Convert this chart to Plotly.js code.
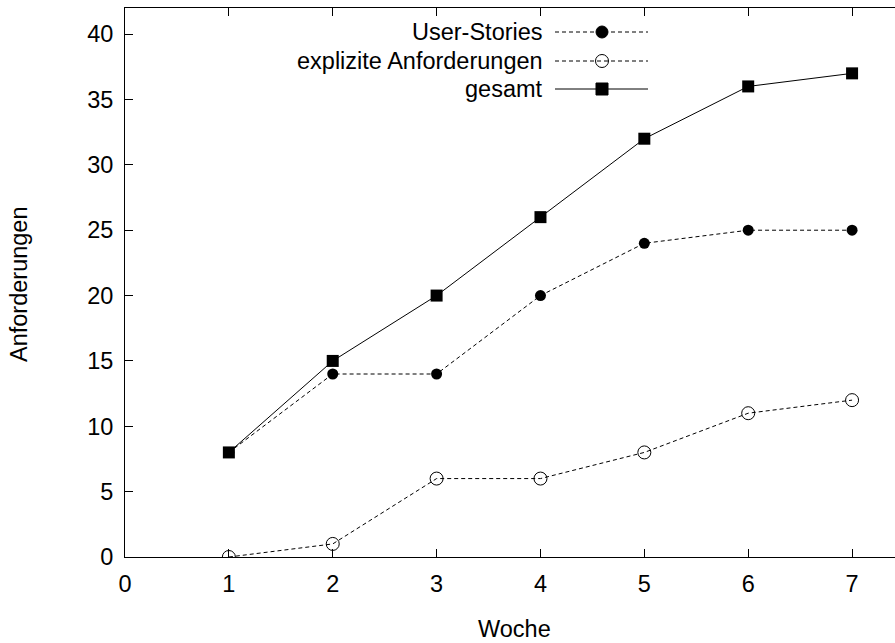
<!DOCTYPE html>
<html><head><meta charset="utf-8">
<script src="https://cdn.plot.ly/plotly-3.0.1.min.js"></script>
<style>html,body{margin:0;padding:0;overflow:hidden;background:#fff}#chart{width:904px;height:643px}</style>
</head><body><div id="chart"></div><script>
// ---- data ----
const weeks = [1, 2, 3, 4, 5, 6, 7];
const userStories = [8, 14, 14, 20, 24, 25, 25];
const explizite = [0, 1, 6, 6, 8, 11, 12];
const gesamt = [8, 15, 20, 26, 32, 36, 37];
const seriesNames = ['User-Stories', 'explizite Anforderungen', 'gesamt'];
const xTickVals = [0, 1, 2, 3, 4, 5, 6, 7];
const yTickVals = [0, 5, 10, 15, 20, 25, 30, 35, 40];
const xTitle = 'Woche';
const yTitle = 'Anforderungen';

// ---- layout config ----
const FONT = 'Liberation Sans, Arial, Helvetica, sans-serif';
const FS = 23.5;
const L = 125, T = 8, W = 779, H = 549;
const px = p => (p - L) / W;
const py = p => (T + H - p) / H;
const DASH = '4px,3px';

const traces = [
  {x: weeks, y: userStories, name: seriesNames[0], mode: 'lines+markers',
   line: {color: '#000', width: 1, dash: DASH},
   marker: {symbol: 'circle', size: 11, color: '#000'}},
  {x: weeks, y: explizite, name: seriesNames[1], mode: 'lines+markers',
   line: {color: '#000', width: 1, dash: DASH},
   marker: {symbol: 'circle-open', size: 13, color: '#000', line: {width: 1, color: '#000'}}},
  {x: weeks, y: gesamt, name: seriesNames[2], mode: 'lines+markers',
   line: {color: '#000', width: 1},
   marker: {symbol: 'square', size: 12, color: '#000'}}
];

// legend (gnuplot style: text right-aligned, sample to the right)
const legRows = [32, 61, 89];
const legTextRight = 545, legLineX0 = 555, legLineX1 = 648, legMarkX = 602;
const shapes = [], annotations = [];
const legendKinds = [
  {dash: DASH, shape: 'circle', fill: '#000', r: 6},
  {dash: DASH, shape: 'circle', fill: 'rgba(0,0,0,0)', r: 6.5},
  {dash: 'solid', shape: 'rect', fill: '#000', r: 6}
];
seriesNames.forEach((nm, i) => {
  const yy = py(legRows[i]);
  const k = legendKinds[i];
  annotations.push({text: nm, xref: 'paper', yref: 'paper', x: px(legTextRight), y: yy,
    xanchor: 'right', yanchor: 'middle', showarrow: false, font: {family: FONT, size: FS, color: '#000'}});
  shapes.push({type: 'line', xref: 'paper', yref: 'paper', x0: px(legLineX0), x1: px(legLineX1), y0: yy, y1: yy,
    line: {color: '#000', width: 1, dash: k.dash}});
  shapes.push({type: k.shape, xref: 'paper', yref: 'paper', xsizemode: 'pixel', ysizemode: 'pixel',
    xanchor: px(legMarkX), yanchor: yy, x0: -k.r, x1: k.r, y0: -k.r, y1: k.r,
    fillcolor: k.fill, line: {color: '#000', width: 1}});
});
annotations.push({text: xTitle, xref: 'paper', yref: 'paper', x: 0.5, y: py(629), xanchor: 'center', yanchor: 'middle',
  showarrow: false, font: {family: FONT, size: FS, color: '#000'}});
annotations.push({text: yTitle, xref: 'paper', yref: 'paper', x: px(19), y: py(284), xanchor: 'center', yanchor: 'middle',
  textangle: -90, showarrow: false, font: {family: FONT, size: FS, color: '#000'}});

const axisCommon = {
  showgrid: false, zeroline: false, showline: true, linecolor: '#000', linewidth: 1,
  mirror: 'ticks', ticks: 'inside', ticklen: 8, tickwidth: 1, tickcolor: '#000',
  tickfont: {family: FONT, size: FS, color: '#000'}, automargin: false, fixedrange: true
};

const layout = {
  width: 904, height: 643,
  margin: {l: L, r: 904 - L - W, t: T, b: 643 - T - H, pad: 0},
  paper_bgcolor: '#fff', plot_bgcolor: '#fff',
  showlegend: false,
  font: {family: FONT, size: FS, color: '#000'},
  xaxis: Object.assign({}, axisCommon, {range: [0, 7.5], tickvals: xTickVals, ticklabelstandoff: 6}),
  yaxis: Object.assign({}, axisCommon, {range: [0, 42], tickvals: yTickVals, ticklabelstandoff: 6}),
  shapes: shapes, annotations: annotations
};

Plotly.newPlot('chart', traces, layout, {staticPlot: true, displayModeBar: false});
</script></body></html>
